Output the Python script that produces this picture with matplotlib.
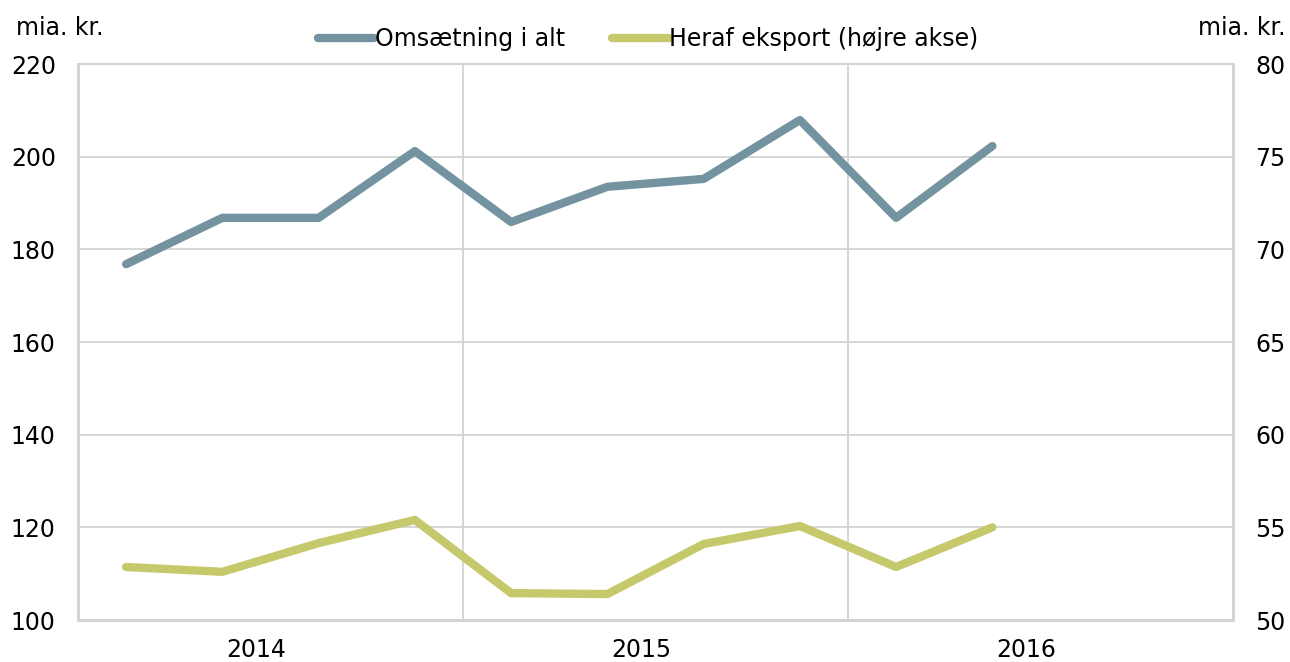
import numpy as np
import matplotlib.pyplot as plt

quarters = np.arange(10)
omsaetning = [176.8, 186.8, 186.8, 201.2, 185.9, 193.5, 195.2, 207.9, 186.8, 202.3]
eksport = [52.86, 52.6, 54.15, 55.4, 51.45, 51.4, 54.1, 55.07, 52.86, 55.0]
years = ['2014', '2015', '2016']

blue = '#7393a0'
green = '#c6c96b'
grid = '#d3d3d3'
fs = 17

fig = plt.figure(figsize=(12.9, 6.62), dpi=100)
ax = fig.add_axes([78 / 1290, 1 - 620 / 662, (1233 - 78) / 1290, (620 - 64) / 662])
ax2 = ax.twinx()

ax.plot(quarters, omsaetning, color=blue, lw=6, solid_capstyle='round',
        solid_joinstyle='round', label='Omsætning i alt', zorder=3)
ax2.plot(quarters, eksport, color=green, lw=6, solid_capstyle='round',
         solid_joinstyle='round', label='Heraf eksport (højre akse)', zorder=3)

ax.set_xlim(-0.5, 11.5)
ax.set_ylim(100, 220)
ax2.set_ylim(50, 80)
ax.set_yticks(np.arange(100, 221, 20))
ax2.set_yticks(np.arange(50, 81, 5))

ax.set_xticks([1.35, 5.35, 9.35])
ax.set_xticklabels(years)
ax.tick_params(axis='x', length=0, pad=13)
ax.tick_params(axis='y', length=0, pad=16)
ax2.tick_params(axis='y', length=0, pad=16)
for a in (ax, ax2):
    a.tick_params(labelsize=fs)

ax.grid(axis='y', color=grid, lw=1.3)
for xv in (3.5, 7.5):
    ax.axvline(xv, color=grid, lw=1.3, zorder=1)
for a in (ax, ax2):
    for s in a.spines.values():
        s.set_color(grid)
        s.set_linewidth(1.8)
    a.spines['top'].set_linewidth(1.3)

fig.text(16 / 1290, 1 - 28 / 662, 'mia. kr.', fontsize=fs, va='center', ha='left')
fig.text(1285 / 1290, 1 - 28 / 662, 'mia. kr.', fontsize=fs, va='center', ha='right')

h1, l1 = ax.get_legend_handles_labels()
h2, l2 = ax2.get_legend_handles_labels()
fig.legend(h1 + h2, l1 + l2, loc='center', bbox_to_anchor=(648 / 1290, 1 - 39 / 662),
           ncol=2, frameon=False, fontsize=fs, handlelength=2.4, handletextpad=0.02,
           columnspacing=2.0)

fig.savefig('out.png', dpi=100)
